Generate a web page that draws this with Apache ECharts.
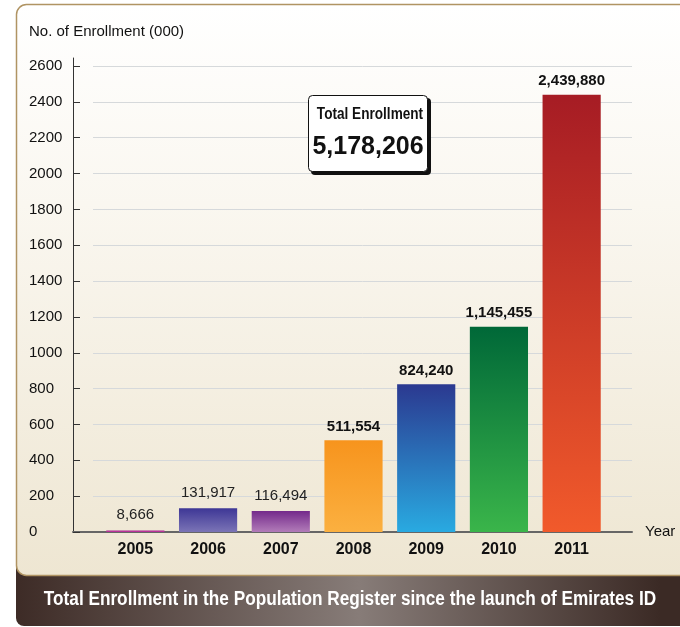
<!DOCTYPE html>
<html>
<head>
<meta charset="utf-8">
<style>
  html, body { margin: 0; padding: 0; background: #fff; }
  #main { width: 680px; height: 627px; }
</style>
<script src="https://cdn.jsdelivr.net/npm/echarts@6/dist/echarts.min.js"></script>
</head>
<body>
<div id="main"></div>
<script>
/* chart data */
var years = ['2005', '2006', '2007', '2008', '2009', '2010', '2011'];
var enrollment = [8666, 131917, 116494, 511554, 824240, 1145455, 2439880];
var yTicks = [0, 200, 400, 600, 800, 1000, 1200, 1400, 1600, 1800, 2000, 2200, 2400, 2600];
var topColors = ['#a3238a', '#3e3796', '#742a8b', '#f7941d', '#2b3990', '#006838', '#a61c24'];
var bottomColors = ['#c43aa0', '#7b74b6', '#b27cb9', '#fbb040', '#29aae1', '#3ab54a', '#f15a2b'];

var font = 'Liberation Sans, Arial, sans-serif';

function commas(n) {
    return String(n).replace(/\B(?=(\d{3})+(?!\d))/g, ',');
}

var total = 0;
for (var i = 0; i < enrollment.length; ++i) total += enrollment[i];

// bars, one gradient per year
var barData = [];
for (var i = 0; i < years.length; ++i) {
    var small = i < 3;
    barData.push({
        value: enrollment[i] / 1000,
        itemStyle: {
            color: new echarts.graphic.LinearGradient(0, 0, 0, 1, [
                { offset: 0, color: topColors[i] },
                { offset: 1, color: bottomColors[i] }
            ])
        },
        label: {
            fontWeight: small ? 'normal' : 'bold',
            color: small ? '#222' : '#111',
            distance: small ? 8 : 6
        }
    });
}

var axisTop = 2600 * (532 - 58) / (532 - 66);

var chart = echarts.init(document.getElementById('main'));
chart.setOption({
    animation: false,
    textStyle: { fontFamily: font },
    title: {
        text: 'No. of Enrollment (000)',
        left: 29,
        top: 24,
        padding: 0,
        textStyle: { fontSize: 15, fontWeight: 'normal', color: '#111', fontFamily: font }
    },
    grid: [
        { left: 73, right: 48, top: 58, bottom: 95 },
        { left: 93, right: 48, top: 66, bottom: 95 },
        { left: 99, right: 72, top: 66, bottom: 95 }
    ],
    xAxis: [{
        gridIndex: 0,
        type: 'category',
        data: years,
        name: 'Year',
        nameLocation: 'end',
        nameGap: 13,
        nameTextStyle: { fontSize: 15, color: '#111', fontFamily: font },
        axisLine: { lineStyle: { color: '#666', width: 2 } },
        axisTick: { show: false },
        axisLabel: { show: false }
    }, {
        gridIndex: 1,
        type: 'value',
        show: false
    }, {
        gridIndex: 2,
        type: 'category',
        data: years,
        axisLine: { show: false },
        axisTick: { show: false },
        axisLabel: { margin: 10, fontSize: 16, fontWeight: 'bold', color: '#111', fontFamily: font }
    }],
    yAxis: [{
        gridIndex: 0,
        type: 'value',
        min: 0,
        max: axisTop,
        splitLine: { show: false },
        axisLine: { show: true, lineStyle: { color: '#333', width: 1 } },
        axisTick: { show: true, inside: true, length: 7, customValues: yTicks, lineStyle: { color: '#333' } },
        axisLabel: {
            customValues: yTicks, align: 'left', margin: 44, fontSize: 15, color: '#111', fontFamily: font,
            formatter: function (v) { return String(Math.round(v)); }
        }
    }, {
        gridIndex: 1,
        type: 'value',
        min: 0,
        max: 2600,
        interval: 200,
        axisLine: { show: false },
        axisTick: { show: false },
        axisLabel: { show: false },
        splitLine: { lineStyle: { color: '#d6d9db', width: 1 } }
    }, {
        gridIndex: 2,
        type: 'value',
        min: 0,
        max: 2600,
        show: false,
        splitLine: { show: false }
    }],
    series: [{
        type: 'bar',
        xAxisIndex: 2,
        yAxisIndex: 2,
        barWidth: '80%',
        data: barData,
        z: 5,
        label: {
            show: true,
            position: 'top',
            fontSize: 15,
            fontFamily: font,
            formatter: function (p) { return commas(enrollment[p.dataIndex]); }
        }
    }],
    graphic: [
        // dark caption strip
        {
            type: 'rect', z: -20, silent: true,
            shape: { x: 16, y: 555, width: 700, height: 71, r: [0, 0, 0, 8] },
            style: {
                fill: new echarts.graphic.LinearGradient(0, 0, 1, 0, [
                    { offset: 0, color: '#3d2b26' },
                    { offset: 0.49, color: '#877c78' },
                    { offset: 0.92, color: '#3b2a25' },
                    { offset: 1, color: '#3b2a25' }
                ])
            }
        },
        // cream card
        {
            type: 'rect', z: -10, silent: true,
            shape: { x: 16.5, y: 4.5, width: 700, height: 571, r: 10 },
            style: {
                fill: new echarts.graphic.LinearGradient(0, 0, 0, 1, [
                    { offset: 0, color: '#ffffff' },
                    { offset: 0.35, color: '#faf7f0' },
                    { offset: 1, color: '#eee6d2' }
                ]),
                stroke: '#b09463',
                lineWidth: 1.5
            }
        },
        // caption, squeezed to look like a narrow face
        {
            type: 'text', z: 10, silent: true,
            x: 350, y: 599, scaleX: 0.86,
            style: {
                x: 0, y: 0,
                text: 'Total Enrollment in the Population Register since the launch of Emirates ID',
                fill: '#fff',
                font: 'bold 20px ' + font,
                align: 'center',
                verticalAlign: 'middle'
            }
        },
        // total box
        {
            type: 'rect', z: 20, silent: true,
            shape: { x: 311, y: 98, width: 120, height: 77, r: 4 },
            style: { fill: '#111' }
        },
        {
            type: 'rect', z: 21, silent: true,
            shape: { x: 308.5, y: 95.5, width: 119, height: 76, r: 4 },
            style: { fill: '#fff', stroke: '#111', lineWidth: 1 }
        },
        {
            type: 'text', z: 22, silent: true,
            x: 370, y: 114, scaleX: 0.8,
            style: {
                x: 0, y: 0,
                text: 'Total Enrollment',
                fill: '#111',
                font: 'bold 17px ' + font,
                align: 'center',
                verticalAlign: 'middle'
            }
        },
        {
            type: 'text', z: 22, silent: true,
            x: 368, y: 147,
            style: {
                x: 0, y: 0,
                text: commas(total),
                fill: '#111',
                font: 'bold 25px ' + font,
                align: 'center',
                verticalAlign: 'middle'
            }
        }
    ]
});
</script>
</body>
</html>
